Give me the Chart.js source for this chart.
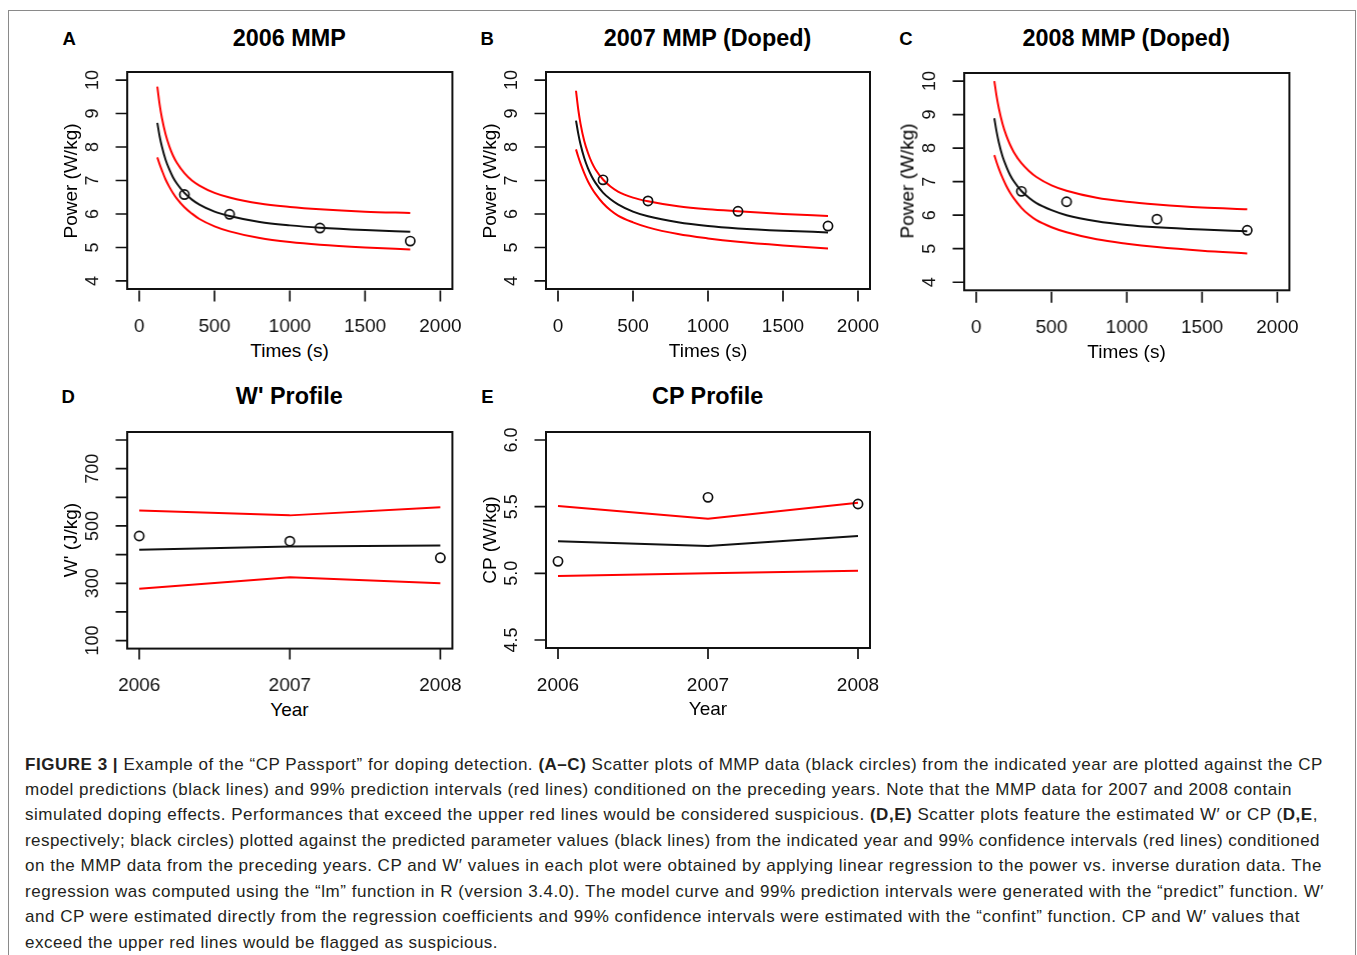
<!DOCTYPE html>
<html>
<head>
<meta charset="utf-8">
<script src="https://cdn.jsdelivr.net/npm/chart.js@4.4.1/dist/chart.umd.min.js"></script>
<style>
html, body { margin: 0; padding: 0; background: #fff; width: 1357px; height: 955px; overflow: hidden; font-family: "Liberation Sans", Arial, sans-serif; }
.frame { position: absolute; left: 8px; top: 10px; width: 1348px; height: 1000px; border: 1.5px solid #8a8a8a; box-sizing: border-box; }
.panel { position: absolute; }
.t { position: absolute; white-space: nowrap; transform: translate(-50%, -50%); line-height: 1; color: #000; }
.title { font-weight: bold; font-size: 23.4px; }
.letter { font-weight: bold; font-size: 18.5px; }
.axt { font-size: 19px; }
.rot { transform: translate(-50%, -50%) rotate(-90deg); }
.cap { position: absolute; left: 25px; top: 751.5px; font-size: 17px; line-height: 25.43px; color: #231f20; }
.cap div { white-space: nowrap; width: max-content; }
</style>
</head>
<body>
<div class="frame"></div>

<div class="panel" id="pA"><canvas id="cA"></canvas></div>
<div class="panel" id="pB"><canvas id="cB"></canvas></div>
<div class="panel" id="pC"><canvas id="cC"></canvas></div>
<div class="panel" id="pD"><canvas id="cD"></canvas></div>
<div class="panel" id="pE"><canvas id="cE"></canvas></div>

<div class="t letter" style="left:69.3px;top:39px">A</div>
<div class="t letter" style="left:487.3px;top:39px">B</div>
<div class="t letter" style="left:906px;top:39px">C</div>
<div class="t letter" style="left:68.3px;top:397px">D</div>
<div class="t letter" style="left:487.5px;top:397px">E</div>

<div class="t title" style="left:289.3px;top:38.5px">2006 MMP</div>
<div class="t title" style="left:707.5px;top:38.5px">2007 MMP (Doped)</div>
<div class="t title" style="left:1126.2px;top:39px">2008 MMP (Doped)</div>
<div class="t title" style="left:289.3px;top:396.7px">W' Profile</div>
<div class="t title" style="left:707.7px;top:396.7px">CP Profile</div>

<div class="t axt" style="left:289.5px;top:350px">Times (s)</div>
<div class="t axt" style="left:708px;top:350px">Times (s)</div>
<div class="t axt" style="left:1126.5px;top:350.5px">Times (s)</div>
<div class="t axt" style="left:289.5px;top:708.5px">Year</div>
<div class="t axt" style="left:708px;top:708px">Year</div>

<div class="t axt rot" style="left:69.8px;top:180.8px">Power (W/kg)</div>
<div class="t axt rot" style="left:488.5px;top:180.8px">Power (W/kg)</div>
<div class="t axt rot" style="left:906.8px;top:181.3px">Power (W/kg)</div>
<div class="t axt rot" style="left:69.8px;top:540px">W' (J/kg)</div>
<div class="t axt rot" style="left:488.5px;top:539.7px">CP (W/kg)</div>

<div class="cap">
<div data-w="1298"><b>FIGURE 3 |</b> Example of the “CP Passport” for doping detection. <b>(A–C)</b> Scatter plots of MMP data (black circles) from the indicated year are plotted against the CP</div>
<div data-w="1267">model predictions (black lines) and 99% prediction intervals (red lines) conditioned on the preceding years. Note that the MMP data for 2007 and 2008 contain</div>
<div data-w="1293">simulated doping effects. Performances that exceed the upper red lines would be considered suspicious. <b>(D,E)</b> Scatter plots feature the estimated W′ or CP (<b>D,E</b>,</div>
<div data-w="1295">respectively; black circles) plotted against the predicted parameter values (black lines) from the indicated year and 99% confidence intervals (red lines) conditioned</div>
<div data-w="1297">on the MMP data from the preceding years. CP and W′ values in each plot were obtained by applying linear regression to the power vs. inverse duration data. The</div>
<div data-w="1299">regression was computed using the “lm” function in R (version 3.4.0). The model curve and 99% prediction intervals were generated with the “predict” function. W′</div>
<div data-w="1275">and CP were estimated directly from the regression coefficients and 99% confidence intervals were estimated with the “confint” function. CP and W′ values that</div>
<div data-w="473">exceed the upper red lines would be flagged as suspicious.</div>
</div>

<script>
const times = [120, 135, 150, 175, 200, 225, 250, 300, 350, 400, 500, 600, 800, 1000, 1200, 1500, 1800];
// durations of the MMP observations
const mmpTimes = [300, 600, 1200, 1800];

// A: 2006
const fitA = [8.72, 8.33, 8.02, 7.62, 7.33, 7.09, 6.91, 6.63, 6.43, 6.28, 6.07, 5.94, 5.76, 5.66, 5.59, 5.52, 5.47];
const upA  = [9.80, 9.28, 8.88, 8.38, 8.02, 7.74, 7.53, 7.22, 7.00, 6.85, 6.63, 6.49, 6.31, 6.21, 6.14, 6.07, 6.03];
const loA  = [7.69, 7.49, 7.31, 7.03, 6.81, 6.62, 6.46, 6.20, 6.01, 5.85, 5.63, 5.48, 5.28, 5.16, 5.08, 5.00, 4.94];
const mmpA = [6.58, 5.99, 5.58, 5.19];

// B: 2007 (doped)
const fitB = [8.79, 8.40, 8.08, 7.67, 7.36, 7.12, 6.93, 6.64, 6.44, 6.29, 6.07, 5.93, 5.75, 5.64, 5.57, 5.50, 5.45];
const upB  = [9.68, 9.12, 8.70, 8.18, 7.82, 7.54, 7.33, 7.03, 6.82, 6.67, 6.49, 6.38, 6.23, 6.14, 6.08, 6.00, 5.94];
const loB  = [7.93, 7.71, 7.51, 7.22, 6.97, 6.77, 6.60, 6.32, 6.11, 5.95, 5.75, 5.60, 5.40, 5.27, 5.17, 5.06, 4.97];
const mmpB = [7.02, 6.39, 6.08, 5.64];

// C: 2008 (doped)
const fitC = [8.89, 8.49, 8.17, 7.75, 7.45, 7.20, 7.01, 6.72, 6.52, 6.36, 6.15, 6.00, 5.82, 5.71, 5.64, 5.57, 5.52];
const upC  = [10.0, 9.55, 9.19, 8.72, 8.37, 8.10, 7.88, 7.55, 7.32, 7.14, 6.89, 6.73, 6.52, 6.40, 6.32, 6.23, 6.18];
const loC  = [7.79, 7.58, 7.39, 7.11, 6.87, 6.67, 6.50, 6.22, 6.01, 5.85, 5.64, 5.49, 5.28, 5.15, 5.05, 4.94, 4.86];
const mmpC = [6.71, 6.40, 5.88, 5.55];

// D / E: parameter profiles
const years = [2006, 2007, 2008];
const wFit = [417, 428, 432];
const wUp  = [554, 537, 565];
const wLo  = [281, 321, 300];
const wObs = [465, 447, 389];
const cpFit = [5.24, 5.205, 5.28];
const cpUp  = [5.505, 5.41, 5.53];
const cpLo  = [4.98, 5.00, 5.02];
const cpObs = [5.09, 5.57, 5.52];

// tick marks
const timeTicks = [0, 500, 1000, 1500, 2000];
const powerTicks = [4, 5, 6, 7, 8, 9, 10];
const wTicks = [100, 200, 300, 400, 500, 600, 700, 800];
const wLabels = [100, 300, 500, 700];
const cpTicks = [4.5, 5.0, 5.5, 6.0];

const FONT = '"Liberation Sans", Arial, sans-serif';
const RED = '#ff0000';
const INK = '#111';

const pts = (xs, ys) => xs.map((v, i) => ({ x: v, y: ys[i] }));
const curve = (xs, ys, col, smooth) => ({
    data: pts(xs, ys), borderColor: col, borderWidth: 2, pointRadius: 0, fill: false,
    cubicInterpolationMode: smooth ? 'monotone' : 'default', tension: 0
});
const dots = (xs, ys) => ({
    data: pts(xs, ys), showLine: false, pointRadius: 4.6, pointBorderWidth: 1.7,
    pointBorderColor: INK, borderColor: INK, pointBackgroundColor: 'rgba(0,0,0,0)', backgroundColor: 'rgba(0,0,0,0)'
});

// R-style box + outside ticks, y labels rotated
function makeAxes(ax) {
    return {
        id: 'rAxes',
        afterDatasetsDraw(chart) {
            const ctx = chart.ctx, a = chart.chartArea, x = chart.scales.x, y = chart.scales.y;
            ctx.save();
            ctx.strokeStyle = INK;
            ctx.lineWidth = 2;
            ctx.strokeRect(a.left, a.top, a.right - a.left, a.bottom - a.top);
            ctx.lineWidth = 1.7;
            ctx.beginPath();
            ax.xTicks.forEach(v => {
                const px = x.getPixelForValue(v);
                ctx.moveTo(px, a.bottom + ax.gap); ctx.lineTo(px, a.bottom + ax.gap + 11);
            });
            ax.yTicks.forEach(v => {
                const py = y.getPixelForValue(v);
                ctx.moveTo(a.left - 11.5, py); ctx.lineTo(a.left, py);
            });
            ctx.stroke();
            ctx.fillStyle = INK;
            ctx.textAlign = 'center'; ctx.textBaseline = 'middle';
            ctx.font = '19px ' + FONT;
            ax.xTicks.forEach((v, i) => ctx.fillText(ax.xText[i], x.getPixelForValue(v), a.bottom + 37.5));
            ctx.font = '18px ' + FONT;
            ax.yLabels.forEach((v, i) => {
                ctx.save();
                ctx.translate(a.left - 34, y.getPixelForValue(v));
                ctx.rotate(-Math.PI / 2);
                ctx.fillText(ax.yText[i], 0, 0);
                ctx.restore();
            });
            ctx.restore();
        }
    };
}

function panel(id, box, xr, yr, sets, ax) {
    const wrap = document.getElementById('p' + id);
    wrap.style.left = (box[0] - 80) + 'px';
    wrap.style.top = (box[1] - 10) + 'px';
    wrap.style.width = (box[2] + 100) + 'px';
    wrap.style.height = (box[3] + 60) + 'px';
    return new Chart(document.getElementById('c' + id), {
        type: 'line',
        data: { datasets: sets },
        options: {
            responsive: true, maintainAspectRatio: false, animation: false, events: [],
            layout: { padding: { left: 80, top: 10, right: 20, bottom: 50 } },
            scales: {
                x: { type: 'linear', min: xr[0], max: xr[1], display: false },
                y: { type: 'linear', min: yr[0], max: yr[1], display: false }
            },
            plugins: { legend: { display: false }, tooltip: { enabled: false } }
        },
        plugins: [makeAxes(ax)]
    });
}

const mmpAxes = {
    gap: 1.5, xTicks: timeTicks, xText: timeTicks.map(String),
    yTicks: powerTicks, yLabels: powerTicks, yText: powerTicks.map(String)
};
const tRange = [-80, 2080], pRange = [3.76, 10.24];

panel('A', [127.3, 72.3, 324.4, 217], tRange, pRange,
    [dots(mmpTimes, mmpA), curve(times, fitA, INK, true), curve(times, upA, RED, true), curve(times, loA, RED, true)], mmpAxes);
panel('B', [546, 72.3, 324, 217], tRange, pRange,
    [dots(mmpTimes, mmpB), curve(times, fitB, INK, true), curve(times, upB, RED, true), curve(times, loB, RED, true)], mmpAxes);
panel('C', [964.3, 72.7, 324.4, 217.3], tRange, pRange,
    [dots(mmpTimes, mmpC), curve(times, fitC, INK, true), curve(times, upC, RED, true), curve(times, loC, RED, true)], mmpAxes);

const yrRange = [2005.92, 2008.08];
panel('D', [127.3, 431.7, 324.4, 216.6], yrRange, [72, 828],
    [dots(years, wObs), curve(years, wFit, INK, false), curve(years, wUp, RED, false), curve(years, wLo, RED, false)],
    { gap: 0, xTicks: years, xText: years.map(String), yTicks: wTicks, yLabels: wLabels, yText: wLabels.map(String) });
panel('E', [546, 431.7, 324, 216], yrRange, [4.44, 6.06],
    [dots(years, cpObs), curve(years, cpFit, INK, false), curve(years, cpUp, RED, false), curve(years, cpLo, RED, false)],
    { gap: 0, xTicks: years, xText: years.map(String), yTicks: cpTicks, yLabels: cpTicks, yText: cpTicks.map(v => v.toFixed(1)) });

// stretch caption lines a little so they wrap where the original does
document.querySelectorAll('.cap div').forEach(d => {
    const w = d.getBoundingClientRect().width;
    const n = d.textContent.length;
    let ls = (Number(d.dataset.w) - w) / n;
    ls = Math.max(-1.2, Math.min(1.2, ls));
    d.style.letterSpacing = ls + 'px';
});
</script>
</body>
</html>
